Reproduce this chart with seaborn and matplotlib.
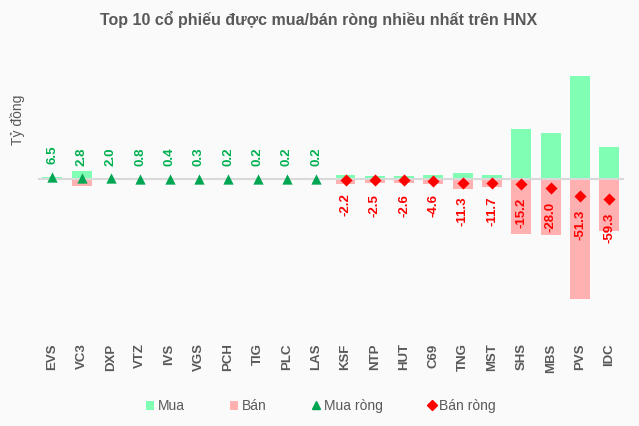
import numpy as np
import pandas as pd
import matplotlib
matplotlib.use("Agg")
import matplotlib.pyplot as plt
import seaborn as sns
from matplotlib.patches import Patch
from matplotlib.lines import Line2D

# Data (billion VND)
tickers = ["EVS", "VC3", "DXP", "VTZ", "IVS", "VGS", "PCH", "TIG", "PLC", "LAS",
           "KSF", "NTP", "HUT", "C69", "TNG", "MST", "SHS", "MBS", "PVS", "IDC"]
net = [6.5, 2.8, 2.0, 0.8, 0.4, 0.3, 0.2, 0.2, 0.2, 0.2,
       -2.2, -2.5, -2.6, -4.6, -11.3, -11.7, -15.2, -28.0, -51.3, -59.3]
buy = [7.0, 24.0, 2.0, 3.5, 0.4, 0.3, 0.2, 0.2, 0.2, 0.2,
       12.0, 8.0, 9.0, 11.0, 18.0, 11.0, 150.0, 139.0, 308.0, 96.0]
sell = [0.5, 21.2, 0.0, 2.7, 0.0, 0.0, 0.0, 0.0, 0.0, 0.0,
        14.2, 10.5, 11.6, 15.6, 29.3, 22.7, 165.2, 167.0, 359.3, 155.3]

df = pd.DataFrame({"ticker": tickers, "net": net, "buy": buy, "sell": sell})
df["pos"] = np.arange(len(df))
df["sell_neg"] = -df["sell"]

bg = "#fafafa"
c_buy = "#80ffb4"
c_sell = "#ffb0b0"
c_green = "#00a651"
c_red = "#ff0000"
grey_txt = "#595959"

sns.set_style("white")
plt.rcParams["font.family"] = ["Liberation Sans", "DejaVu Sans"]

fig = plt.figure(figsize=(6.39, 4.26), dpi=100, facecolor=bg)
ax = fig.add_axes([38 / 639, (426 - 335) / 426, 586 / 639, (335 - 40) / 426])
ax.set_facecolor(bg)

sns.barplot(data=df, x="ticker", y="buy", color=c_buy, width=0.68,
            saturation=1, edgecolor=c_buy, linewidth=0, ax=ax)
sns.barplot(data=df, x="ticker", y="sell_neg", color=c_sell, width=0.68,
            saturation=1, edgecolor=c_sell, linewidth=0, ax=ax)
ax.axhline(0, color="#d9d9d9", lw=1.5, zorder=1)

pos_df = df[df["net"] >= 0]
neg_df = df[df["net"] < 0]
sns.scatterplot(data=pos_df, x="pos", y="net", marker="^", color=c_green,
                s=55, linewidth=0, ax=ax, zorder=4)
sns.scatterplot(data=neg_df, x="pos", y="net", marker="D", color=c_red,
                s=38, linewidth=0, ax=ax, zorder=4)

for _, r in df.iterrows():
    if r["net"] >= 0:
        ax.annotate(f"{r['net']:.1f}", (r["pos"], r["net"]), xytext=(0, 9),
                    textcoords="offset points", rotation=90, ha="center",
                    va="bottom", color="#00b050", fontsize=9.5, fontweight="bold")
    else:
        ax.annotate(f"{r['net']:.1f}", (r["pos"], r["net"]), xytext=(0, -10),
                    textcoords="offset points", rotation=90, ha="center",
                    va="top", color=c_red, fontsize=9.5, fontweight="bold")

ax.set_xlim(-0.49, len(df) - 0.5)
ax.set_ylim(-468, 417)
ax.set_xticks(df["pos"])
ax.set_xticklabels(tickers, rotation=90, fontsize=9.5, fontweight="bold", color=grey_txt)
ax.tick_params(axis="x", length=0, pad=6)
ax.set_yticks([])
ax.set_xlabel("")
ax.set_ylabel("")
sns.despine(ax=ax, left=True, bottom=True)
if ax.get_legend():
    ax.get_legend().remove()

fig.text(18 / 639, 1 - 120 / 426, "Tỷ đồng", rotation=90, ha="center", va="center",
         fontsize=10, color=grey_txt)
fig.text(319 / 639, 1 - 19 / 426, "Top 10 cổ phiếu được mua/bán ròng nhiều nhất trên HNX",
         ha="center", va="center", fontsize=11.5, fontweight="bold", color=grey_txt)

handles = [
    Patch(facecolor=c_buy, edgecolor="none", label="Mua"),
    Patch(facecolor=c_sell, edgecolor="none", label="Bán"),
    Line2D([], [], marker="^", color=c_green, ls="none", markersize=6, label="Mua ròng"),
    Line2D([], [], marker="D", color=c_red, ls="none", markersize=5, label="Bán ròng"),
]
fig.legend(handles=handles, loc="center", bbox_to_anchor=(321 / 639, 1 - 406 / 426),
           ncol=4, frameon=False, fontsize=10, handlelength=0.6, handleheight=0.6,
           handletextpad=0.25, columnspacing=3.25, labelcolor=grey_txt)

fig.savefig("out.png", dpi=100, facecolor=bg)
